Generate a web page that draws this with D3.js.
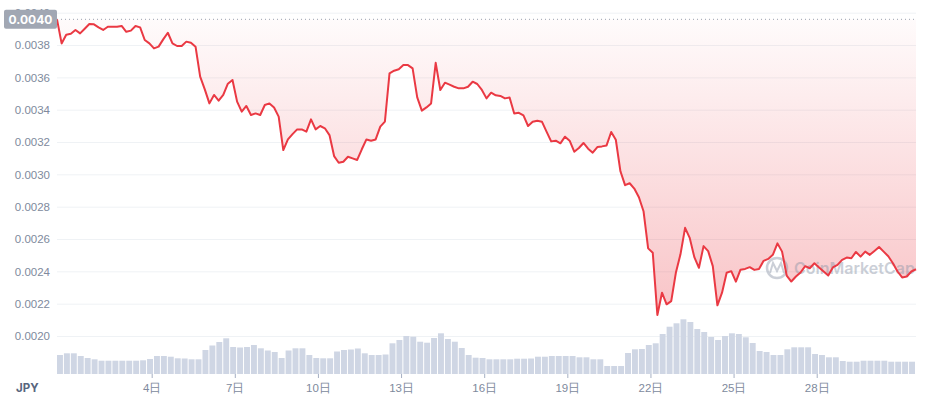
<!DOCTYPE html>
<html>
<head>
<meta charset="utf-8">
<script src="https://cdn.jsdelivr.net/npm/d3@7"></script>
<style>
  body { margin: 0; background: #fff; }
  svg { display: block; font-family: Inter, "Noto Sans CJK JP", sans-serif; }
</style>
</head>
<body>
<svg id="drawing_region"></svg>
<script>
// price every 4 hours, starting 31 Dec 14:00 (UTC)
const startTime = Date.UTC(2022, 11, 31, 14);
const priceStepHours = 4;
const volumeStepHours = 6;

const prices = [
  0.003959, 0.00381, 0.003864, 0.00387, 0.003893, 0.003872, 0.003901, 0.00393, 0.003928, 0.003909,
  0.003893, 0.003913, 0.003913, 0.003913, 0.003918, 0.003882, 0.003889, 0.003918, 0.003909, 0.003831,
  0.00381, 0.003779, 0.00379, 0.003835, 0.003876, 0.00381, 0.003794, 0.003794, 0.003821, 0.003814,
  0.00379, 0.003604, 0.003526, 0.003439, 0.003491, 0.003456, 0.003491, 0.003561, 0.003584, 0.00345,
  0.003388, 0.003423, 0.003367, 0.003377, 0.003367, 0.003429, 0.003439, 0.003414, 0.003357, 0.00315,
  0.003216, 0.003249, 0.003278, 0.003278, 0.003264, 0.00334, 0.003278, 0.003299, 0.003285, 0.003243,
  0.003113, 0.003072, 0.003078, 0.003109, 0.003099, 0.003089, 0.003155, 0.003216, 0.003208, 0.003216,
  0.003295, 0.003326, 0.003625, 0.003641, 0.00365, 0.003676, 0.003676, 0.003656, 0.003476, 0.003394,
  0.003414, 0.003439, 0.00369, 0.003522, 0.003567, 0.003555, 0.003542, 0.003532, 0.003532, 0.003542,
  0.003573, 0.003559, 0.003522, 0.00347, 0.003505, 0.003489, 0.003485, 0.00347, 0.003476, 0.003377,
  0.003381, 0.003365, 0.003299, 0.003326, 0.003332, 0.003326, 0.003264, 0.003204, 0.003208, 0.003192,
  0.003233, 0.003208, 0.00314, 0.003163, 0.003194, 0.003159, 0.003134, 0.003169, 0.003173, 0.003179,
  0.003262, 0.003214, 0.003019, 0.002933, 0.002945, 0.002912, 0.002858, 0.002772, 0.002542, 0.002515,
  0.00213, 0.002268, 0.002196, 0.002216, 0.002391, 0.002505, 0.002669, 0.002607, 0.002488, 0.002422,
  0.002556, 0.002525, 0.002432, 0.00219, 0.002268, 0.002391, 0.002401, 0.002336, 0.00241, 0.002415,
  0.002426, 0.002409, 0.002415, 0.002465, 0.002477, 0.002502, 0.002573, 0.002522, 0.002374, 0.002337,
  0.002368, 0.002393, 0.002432, 0.002419, 0.00245, 0.002424, 0.002399, 0.002374, 0.002424, 0.00244,
  0.002471, 0.002485, 0.002481, 0.00252, 0.002491, 0.002522, 0.002502, 0.002526, 0.002551, 0.002522,
  0.002493, 0.00245, 0.002399, 0.002362, 0.002368, 0.002399, 0.002413
];

// volume every 6 hours (millions JPY, estimated)
const volumes = [
  19, 20.7, 20.7, 18, 16, 14.7, 13.3, 13.3, 13.3, 13.3,
  13.3, 13.3, 13.7, 15, 18, 18, 17.3, 15.7, 15.5, 14.7,
  14.7, 24, 28.5, 32, 35.7, 27, 26.5, 27, 29, 25.7,
  23.5, 22, 16, 23.5, 25.7, 25.7, 19, 16, 15.7, 15.7,
  22.5, 24, 24.5, 25.5, 20.7, 19, 19, 19.5, 30.7, 34,
  38, 37.3, 32.3, 31.3, 36, 40.7, 35, 32.3, 26, 19,
  16.3, 16, 14.7, 14.7, 14.7, 14.7, 15.3, 15.3, 15.5, 17.3,
  17.3, 18, 18, 18, 18, 16.7, 16.7, 14.7, 14.7, 8,
  8, 8, 21, 24.7, 25, 29, 30.7, 40, 47.3, 50.7,
  54.7, 52, 45, 42, 37, 34, 38, 40.7, 40, 36.7,
  31, 23, 22, 19, 19, 24.7, 26.7, 26.7, 26.7, 20,
  19, 16.7, 16.7, 13, 12.3, 12.3, 13.3, 13.3, 13.3, 13.3,
  12.3, 12.3, 12.3, 12.3
];

const yTicks = [0.0020, 0.0022, 0.0024, 0.0026, 0.0028, 0.0030, 0.0032, 0.0034, 0.0036, 0.0038, 0.0040];
const xTickDays = [4, 7, 10, 13, 16, 19, 22, 25, 28];
const currency = 'JPY';

const HOUR = 3600 * 1000;
const priceData = prices.map((p, i) => ({ t: new Date(startTime + i * priceStepHours * HOUR), p: p }));
const volumeData = volumes.map((v, i) => ({
  t0: new Date(startTime + i * volumeStepHours * HOUR),
  t1: new Date(startTime + (i + 1) * volumeStepHours * HOUR),
  v: v
}));
const endTime = priceData[priceData.length - 1].t;

const width = 926, height = 399;
const margin = { top: 12.7, right: 10, bottom: 25, left: 57 };
const plotRight = 916;

const svg = d3.select('#drawing_region')
  .attr('width', width)
  .attr('height', height);

const xscale = d3.scaleUtc()
  .domain([new Date(startTime), endTime])
  .range([margin.left, plotRight]);

const yscale = d3.scaleLinear()
  .domain([0.0020, 0.0040])
  .range([336, margin.top]);

const vscale = d3.scaleLinear()
  .domain([0, 60])
  .range([374, 314]);

// gridlines + y labels
const yaxis = d3.axisLeft(yscale)
  .tickValues(yTicks)
  .tickSize(-(plotRight - margin.left))
  .tickPadding(7)
  .tickFormat(d3.format('.4f'));

const yaxis_group = svg.append('g')
  .attr('transform', `translate(${margin.left},0)`)
  .call(yaxis);
yaxis_group.select('.domain').remove();
yaxis_group.selectAll('line').attr('stroke', '#eff2f5');
yaxis_group.selectAll('text')
  .attr('fill', '#808a9d')
  .style('font-size', '11.5px');

// volume bars
svg.append('g')
  .selectAll('rect')
  .data(volumeData)
  .join('rect')
  .attr('x', d => xscale(d.t0))
  .attr('width', d => Math.max(0, xscale(d.t1) - xscale(d.t0) - 1))
  .attr('y', d => vscale(d.v))
  .attr('height', d => vscale(0) - vscale(d.v))
  .attr('fill', '#cfd6e4');

// area between line and opening price
const basePrice = prices[0];
const baseY = yscale(basePrice);
const minPrice = d3.min(prices);

const defs = svg.append('defs');
const grad = defs.append('linearGradient')
  .attr('id', 'redfill')
  .attr('gradientUnits', 'userSpaceOnUse')
  .attr('x1', 0).attr('x2', 0)
  .attr('y1', baseY).attr('y2', yscale(minPrice));
grad.append('stop').attr('offset', '0%').attr('stop-color', '#ea3943').attr('stop-opacity', 0.02);
grad.append('stop').attr('offset', '100%').attr('stop-color', '#ea3943').attr('stop-opacity', 0.3);

const area = d3.area()
  .x(d => xscale(d.t))
  .y0(baseY)
  .y1(d => yscale(Math.min(d.p, basePrice)));

svg.append('path')
  .datum(priceData)
  .attr('d', area)
  .attr('fill', 'url(#redfill)');

// dotted opening line
svg.append('line')
  .attr('x1', margin.left).attr('x2', plotRight)
  .attr('y1', baseY).attr('y2', baseY)
  .attr('stroke', '#9aa2b0')
  .attr('stroke-width', 1)
  .attr('stroke-dasharray', '1,3');

// watermark
const wm = svg.append('g').attr('opacity', 0.45);
wm.append('circle')
  .attr('cx', 777).attr('cy', 268).attr('r', 10)
  .attr('fill', 'none').attr('stroke', '#8d96a8').attr('stroke-width', 2.5);
wm.append('path')
  .attr('d', 'M770,273 L773,263 L777,271 L781,263 L784,273')
  .attr('fill', 'none').attr('stroke', '#8d96a8').attr('stroke-width', 2);
wm.append('text')
  .attr('x', 794).attr('y', 274)
  .attr('fill', '#8d96a8')
  .style('font-size', '16px')
  .style('font-weight', 600)
  .text('CoinMarketCap');

// price line
const line = d3.line()
  .x(d => xscale(d.t))
  .y(d => yscale(d.p));

svg.append('path')
  .datum(priceData)
  .attr('d', line)
  .attr('fill', 'none')
  .attr('stroke', '#ea3943')
  .attr('stroke-width', 2)
  .attr('stroke-linejoin', 'round');

// opening price box
svg.append('rect')
  .attr('x', 4).attr('y', baseY - 9.5)
  .attr('width', margin.left - 4).attr('height', 19)
  .attr('rx', 2)
  .attr('fill', '#a1a7b3');
svg.append('text')
  .attr('x', (4 + margin.left) / 2).attr('y', baseY)
  .attr('text-anchor', 'middle')
  .attr('dominant-baseline', 'central')
  .attr('fill', '#fff')
  .style('font-size', '12px')
  .style('font-weight', 700)
  .text(d3.format('.4f')(basePrice));

// x axis
const xaxis = d3.axisBottom(xscale)
  .tickValues(xTickDays.map(d => new Date(Date.UTC(2023, 0, d))))
  .tickSize(4)
  .tickPadding(5.5)
  .tickFormat(d => d.getUTCDate() + '日');

const xaxis_group = svg.append('g')
  .attr('transform', 'translate(0,374)')
  .call(xaxis);
xaxis_group.select('.domain').remove();
xaxis_group.selectAll('line').attr('stroke', '#a6b0c3');
xaxis_group.selectAll('text')
  .attr('fill', '#808a9d')
  .style('font-size', '11.5px');

svg.append('text')
  .attr('x', 16).attr('y', 392)
  .attr('fill', '#58667e')
  .style('font-size', '11.5px')
  .style('font-weight', 700)
  .text(currency);
</script>
</body>
</html>
